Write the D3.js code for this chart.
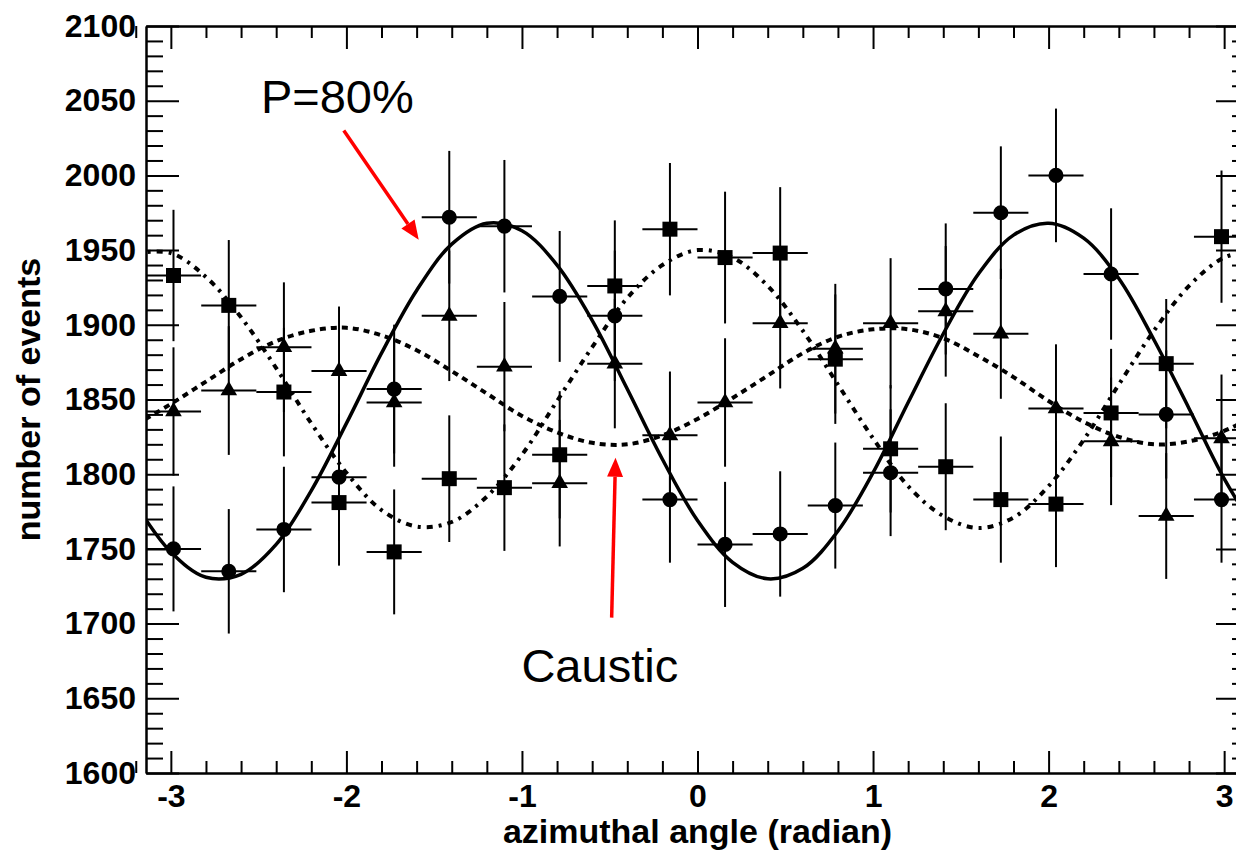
<!DOCTYPE html>
<html>
<head>
<meta charset="utf-8">
<script src="https://cdn.jsdelivr.net/npm/d3@7"></script>
<style>
  html, body { margin: 0; padding: 0; background: #fff; }
  svg { display: block; }
</style>
</head>
<body>
<svg id="chart" width="1236" height="856"></svg>
<script>
// ***** data *****
const binCenters = [-2.985, -2.670, -2.356, -2.042, -1.728, -1.414, -1.100, -0.785, -0.471, -0.157,
                    0.157, 0.471, 0.785, 1.100, 1.414, 1.728, 2.042, 2.356, 2.670, 2.985];
const binHalfWidth = 0.157;

// P=80% (circles)
const circleCounts = [1750, 1735, 1763, 1798, 1857, 1972, 1966, 1919, 1906, 1783,
                      1753, 1760, 1779, 1801, 1924, 1975, 2000, 1934, 1840, 1783];
// squares
const squareCounts = [1933, 1913, 1855, 1781, 1748, 1797, 1791, 1813, 1926, 1964,
                      1945, 1948, 1877, 1817, 1805, 1783, 1780, 1841, 1874, 1959];
// caustic (triangles)
const triangleCounts = [1842, 1856, 1885, 1869, 1848, 1906, 1872, 1794, 1874, 1826,
                        1848, 1901, 1884, 1901, 1909, 1894, 1844, 1822, 1772, 1824];

// fitted curves
const curveAngles = [-3.2, -3.0, -2.8, -2.6, -2.4, -2.2, -2.0, -1.8, -1.6, -1.4, -1.2, -1.0, -0.8,
                     -0.6, -0.4, -0.2, 0.0, 0.2, 0.4, 0.6, 0.8, 1.0, 1.2, 1.4, 1.6, 1.8, 2.0,
                     2.2, 2.4, 2.6, 2.8, 3.0, 3.2];
const solidCurve = [1780, 1748, 1731, 1733, 1753, 1789, 1834, 1881, 1923, 1954, 1968, 1963, 1940,
                    1903, 1857, 1810, 1769, 1741, 1730, 1737, 1762, 1801, 1848, 1894, 1934, 1960, 1968,
                    1958, 1931, 1890, 1844, 1797, 1759];
const dashDotCurve = [1948, 1948, 1932, 1905, 1871, 1834, 1801, 1776, 1765, 1768, 1785, 1813, 1849,
                      1885, 1918, 1940, 1950, 1945, 1926, 1896, 1860, 1824, 1792, 1772, 1764, 1771, 1792,
                      1823, 1860, 1896, 1926, 1945, 1950];
const dashedCurve = [1833, 1847, 1862, 1877, 1889, 1896, 1898, 1893, 1883, 1869, 1854, 1839, 1828,
                     1821, 1820, 1826, 1837, 1851, 1866, 1881, 1892, 1897, 1897, 1891, 1879, 1865, 1849,
                     1835, 1825, 1820, 1822, 1829, 1841];

const xMajorTicks = [-3, -2, -1, 0, 1, 2, 3];
const yMajorTicks = [1600, 1650, 1700, 1750, 1800, 1850, 1900, 1950, 2000, 2050, 2100];

// annotations, in data units
const notes = [
  { text: "P=80%", at: [-2.487, 2042], from: [-2.015, 2030], to: [-1.588, 1957] },
  { text: "Caustic", at: [-1.003, 1661], from: [-0.489, 1704], to: [-0.467, 1811] }
];

// ***** layout *****
const svg = d3.select("#chart");
const plotLeft = 146, plotRight = 1249, plotTop = 26, plotBottom = 773;
const fontFamily = "'Liberation Sans', Arial, Helvetica, sans-serif";

const x = d3.scaleLinear().domain([-Math.PI, Math.PI]).range([plotLeft, plotRight]);
const y = d3.scaleLinear().domain([1600, 2100]).range([plotBottom, plotTop]);

svg.append("clipPath").attr("id", "plotClip")
  .append("rect")
  .attr("x", plotLeft).attr("y", plotTop)
  .attr("width", plotRight - plotLeft).attr("height", plotBottom - plotTop);

// ***** fit curves *****
const line = d3.line()
  .x((d, i) => x(curveAngles[i]))
  .y(d => y(d))
  .curve(d3.curveCatmullRom);

const curves = svg.append("g").attr("clip-path", "url(#plotClip)");
curves.append("path")
  .attr("d", line(dashedCurve))
  .attr("fill", "none").attr("stroke", "#000")
  .attr("stroke-width", 4).attr("stroke-dasharray", "6,5");
curves.append("path")
  .attr("d", line(dashDotCurve))
  .attr("fill", "none").attr("stroke", "#000")
  .attr("stroke-width", 4).attr("stroke-dasharray", "6,6,3,6");
curves.append("path")
  .attr("d", line(solidCurve))
  .attr("fill", "none").attr("stroke", "#000")
  .attr("stroke-width", 3.5);

// ***** points with error bars *****
function drawSeries(counts, symbolType, size) {
  const pts = counts.map((c, i) => ({ a: binCenters[i], n: c, err: Math.sqrt(c) }));
  const g = svg.append("g").attr("clip-path", "url(#plotClip)");
  const groups = g.selectAll("g").data(pts).enter().append("g");
  groups.append("line")
    .attr("x1", d => x(d.a - binHalfWidth)).attr("x2", d => x(d.a + binHalfWidth))
    .attr("y1", d => y(d.n)).attr("y2", d => y(d.n))
    .attr("stroke", "#000").attr("stroke-width", 2);
  groups.append("line")
    .attr("x1", d => x(d.a)).attr("x2", d => x(d.a))
    .attr("y1", d => y(d.n - d.err)).attr("y2", d => y(d.n + d.err))
    .attr("stroke", "#000").attr("stroke-width", 2);
  groups.append("path")
    .attr("transform", d => "translate(" + x(d.a) + "," + y(d.n) + ")")
    .attr("d", d3.symbol().type(symbolType).size(size))
    .attr("fill", "#000");
}
drawSeries(triangleCounts, d3.symbolTriangle, 120);
drawSeries(squareCounts, d3.symbolSquare, 225);
drawSeries(circleCounts, d3.symbolCircle, 180);

// ***** axes *****
function styleAxis(g) {
  g.selectAll("path.domain").attr("stroke", "#000").attr("stroke-width", 2);
  g.selectAll(".tick line").attr("stroke", "#000").attr("stroke-width", 2);
  g.selectAll(".tick text")
    .attr("fill", "#000")
    .style("font-family", fontFamily)
    .style("font-weight", "bold")
    .style("font-size", "32px");
}

const xMinor = d3.range(-3.2, 3.21, 0.2).map(v => +v.toFixed(1)).filter(v => xMajorTicks.indexOf(v) < 0);
const yMinor = d3.range(1600, 2101, 10).filter(v => yMajorTicks.indexOf(v) < 0);

// bottom
svg.append("g").attr("transform", "translate(0," + plotBottom + ")")
  .call(d3.axisBottom(x).tickValues(xMinor).tickSizeInner(-12).tickSizeOuter(0).tickFormat(""))
  .call(styleAxis);
svg.append("g").attr("transform", "translate(0," + plotBottom + ")")
  .call(d3.axisBottom(x).tickValues(xMajorTicks).tickSizeInner(-22).tickSizeOuter(0)
    .tickPadding(11).tickFormat(d => String(d)))
  .call(styleAxis);
// top
svg.append("g").attr("transform", "translate(0," + plotTop + ")")
  .call(d3.axisTop(x).tickValues(xMinor).tickSizeInner(-12).tickSizeOuter(0).tickFormat(""))
  .call(styleAxis);
svg.append("g").attr("transform", "translate(0," + plotTop + ")")
  .call(d3.axisTop(x).tickValues(xMajorTicks).tickSizeInner(-23).tickSizeOuter(0).tickFormat(""))
  .call(styleAxis);
// left
svg.append("g").attr("transform", "translate(" + plotLeft + ",0)")
  .call(d3.axisLeft(y).tickValues(yMinor).tickSizeInner(-17).tickSizeOuter(0).tickFormat(""))
  .call(styleAxis);
svg.append("g").attr("transform", "translate(" + plotLeft + ",0)")
  .call(d3.axisLeft(y).tickValues(yMajorTicks).tickSizeInner(-33).tickSizeOuter(0)
    .tickPadding(10).tickFormat(d => String(d)))
  .call(styleAxis);
// right
svg.append("g").attr("transform", "translate(" + plotRight + ",0)")
  .call(d3.axisRight(y).tickValues(yMinor).tickSizeInner(-17).tickSizeOuter(0).tickFormat(""))
  .call(styleAxis);
svg.append("g").attr("transform", "translate(" + plotRight + ",0)")
  .call(d3.axisRight(y).tickValues(yMajorTicks).tickSizeInner(-33).tickSizeOuter(0).tickFormat(""))
  .call(styleAxis);

// axis titles
svg.append("text")
  .attr("x", (plotLeft + plotRight) / 2).attr("y", 843)
  .attr("text-anchor", "middle")
  .style("font-family", fontFamily).style("font-weight", "bold").style("font-size", "34px")
  .text("azimuthal angle (radian)");
svg.append("text")
  .attr("transform", "translate(40," + (plotTop + plotBottom) / 2 + ") rotate(-90)")
  .attr("text-anchor", "middle")
  .style("font-family", fontFamily).style("font-weight", "bold").style("font-size", "34px")
  .text("number of events");

// ***** annotations *****
notes.forEach(n => {
  svg.append("text")
    .attr("x", x(n.at[0])).attr("y", y(n.at[1]))
    .style("font-family", fontFamily).style("font-size", "47px")
    .attr("fill", "#000")
    .text(n.text);

  const x1 = x(n.from[0]), y1 = y(n.from[1]);
  const x2 = x(n.to[0]), y2 = y(n.to[1]);
  const ang = Math.atan2(y2 - y1, x2 - x1);
  const headLen = 19, headHalf = 8;
  const bx = x2 - headLen * Math.cos(ang), by = y2 - headLen * Math.sin(ang);
  svg.append("line")
    .attr("x1", x1).attr("y1", y1).attr("x2", bx).attr("y2", by)
    .attr("stroke", "#ff0000").attr("stroke-width", 3.5);
  const px = -Math.sin(ang) * headHalf, py = Math.cos(ang) * headHalf;
  svg.append("polygon")
    .attr("points", [[x2, y2], [bx + px, by + py], [bx - px, by - py]].map(p => p.join(",")).join(" "))
    .attr("fill", "#ff0000");
});
</script>
</body>
</html>
